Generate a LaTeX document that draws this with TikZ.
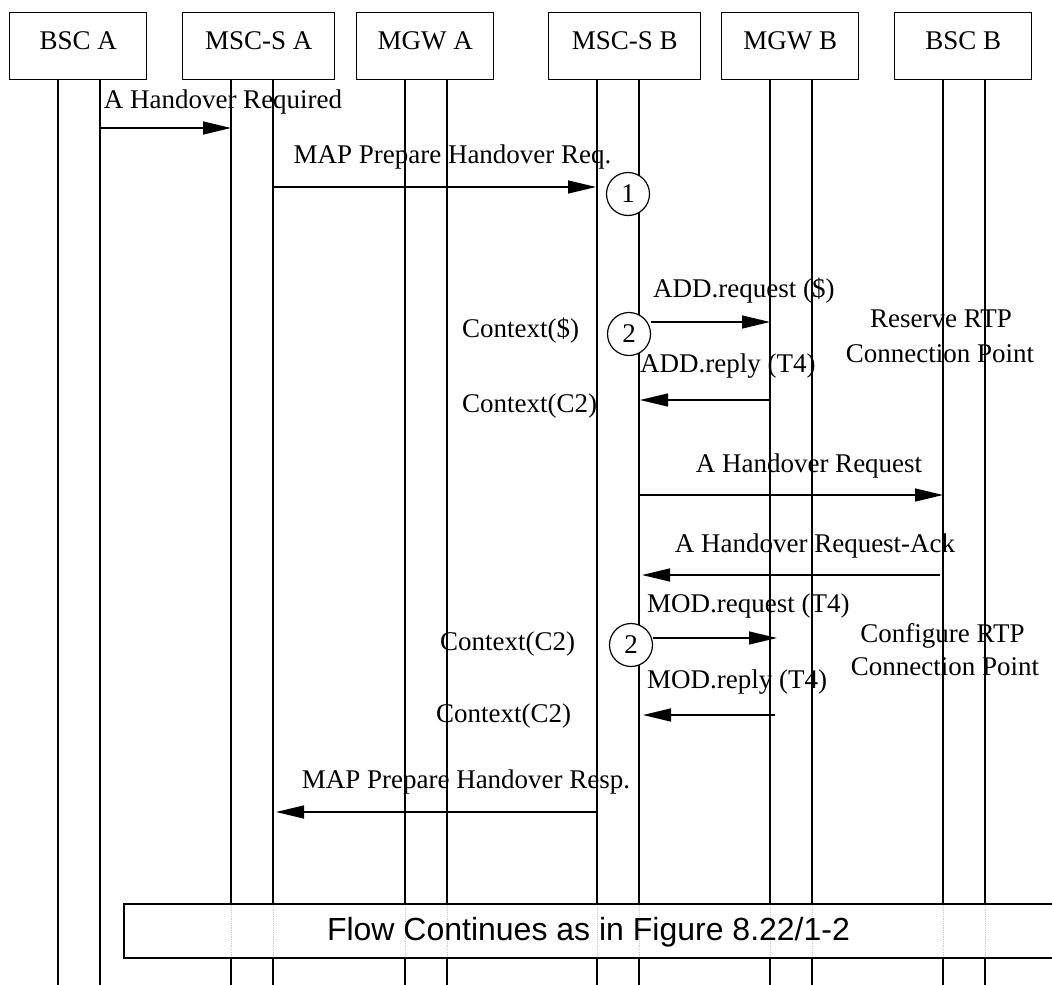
\documentclass[tikz,border=0pt]{standalone}
\usepackage{fontspec}
\setmainfont{Liberation Serif}
\newfontfamily\sansf{Liberation Sans}
\usetikzlibrary{arrows.meta}
\begin{document}
\begin{tikzpicture}[x=1pt,y=-1pt,
  entity/.style={draw, line width=1.3pt, minimum height=67pt, inner sep=0pt, anchor=north west},
  narrow/.style={entity, minimum width=137pt},
  wide/.style={entity, minimum width=152pt},
  life/.style={line width=1.3pt},
  msg/.style={line width=1.4pt, -{Triangle[length=28pt,width=13pt]}},
  lbl/.style={inner sep=0pt, font=\fontsize{27}{32}\selectfont},
  num/.style={draw, circle, fill=white, line width=1.2pt, minimum size=43pt, inner sep=0pt, font=\fontsize{27}{32}\selectfont},
  faint/.style={line width=0.8pt, gray!40, densely dotted},
  contbox/.style={draw, line width=1.4pt}
]
\useasboundingbox (0,0) rectangle (1052,985);
\fill[white] (0,0) rectangle (1052,985);

% entity boxes
\node[narrow] (bsca) at (9,12) {};
\node[wide]   (msca) at (182,12) {};
\node[narrow] (mgwa) at (356,12) {};
\node[wide]   (mscb) at (548,12) {};
\node[narrow] (mgwb) at (721,12) {};
\node[narrow] (bscb) at (894,12) {};
\node[lbl, anchor=base] (bscaT) at (bsca.center |- 0,49) {BSC A};
\node[lbl, anchor=base] (mscaT) at (msca.center |- 0,49) {MSC-S A};
\node[lbl, anchor=base] (mgwaT) at (mgwa.center |- 0,49) {MGW A};
\node[lbl, anchor=base] (mscbT) at (mscb.center |- 0,49) {MSC-S B};
\node[lbl, anchor=base] (mgwbT) at (mgwb.center |- 0,49) {MGW B};
\node[lbl, anchor=base] (bscbT) at (bscb.center |- 0,49) {BSC B};

% lifelines
\foreach \x in {58,100,231,273,405,447,597,639,770,812,943,985}{
  \draw[life] (\x,79) -- (\x,985);
}

% continuation box
\fill[white] (124,904) rectangle (1052,958);
\foreach \x in {231,273,405,447,597,639,770,812,943,985}{
  \draw[faint] (\x,905) -- (\x,957);
}
\draw[contbox] (1052,904) -- (124,904) -- (124,958) -- (1052,958);
\node[inner sep=0pt, anchor=base, font=\sansf\fontsize{32}{38}\selectfont] (flow) at (588.5,940) {Flow Continues as in Figure 8.22/1-2};

% step circles
\node[num] (c1) at (628,194) {1};
\node[num] (c2) at (629,334) {2};
\node[num] (c3) at (631,645) {2};

% message end points
\coordinate (m1s) at (100,128); \coordinate (m1e) at (231,128);
\coordinate (m2s) at (273,187); \coordinate (m2e) at (596,187);
\coordinate (m3e) at (770,322);
\coordinate (m4s) at (770,400); \coordinate (m4e) at (640,400);
\coordinate (m5s) at (639,495); \coordinate (m5e) at (943,495);
\coordinate (m6s) at (940,575); \coordinate (m6e) at (642,575);
\coordinate (m7e) at (777,638);
\coordinate (m8s) at (775,715); \coordinate (m8e) at (643,715);
\coordinate (m9s) at (596,812); \coordinate (m9e) at (276,812);

\draw[msg] (m1s) -- (m1e);
\draw[msg] (m2s) -- (m2e);
\draw[msg] (c2.east |- m3e) -- (m3e);
\draw[msg] (m4s) -- (m4e);
\draw[msg] (m5s) -- (m5e);
\draw[msg] (m6s) -- (m6e);
\draw[msg] (c3.east |- m7e) -- (m7e);
\draw[msg] (m8s) -- (m8e);
\draw[msg] (m9s) -- (m9e);

% message labels
\node[lbl, anchor=base] (t1) at (223,108) {A Handover Required};
\node[lbl, anchor=base] (t2) at (452.5,163) {MAP Prepare Handover Req.};
\node[lbl, anchor=base west] (t3) at (653,297) {ADD.request (\$)};
\node[lbl, anchor=base west] (t3c) at (462,337) {Context(\$)};
\node[lbl, anchor=base west] (t4) at (640,372) {ADD.reply (T4)};
\node[lbl, anchor=base west] (t4c) at (462,412) {Context(C2)};
\node[lbl, anchor=base] (r1) at (941,327) {Reserve RTP};
\node[lbl, anchor=base] (r2) at (940,362) {Connection Point};
\node[lbl, anchor=base] (t5) at (809,472) {A Handover Request};
\node[lbl, anchor=base] (t6) at (815,552) {A Handover Request-Ack};
\node[lbl, anchor=base west] (t7) at (647,612) {MOD.request (T4)};
\node[lbl, anchor=base west] (t7c) at (440,650) {Context(C2)};
\node[lbl, anchor=base west] (t8) at (647,688) {MOD.reply (T4)};
\node[lbl, anchor=base west] (t8c) at (436,722) {Context(C2)};
\node[lbl, anchor=base] (g1) at (942.5,642) {Configure RTP};
\node[lbl, anchor=base] (g2) at (945,675) {Connection Point};
\node[lbl, anchor=base] (t9) at (466,788) {MAP Prepare Handover Resp.};
\end{tikzpicture}
\end{document}
